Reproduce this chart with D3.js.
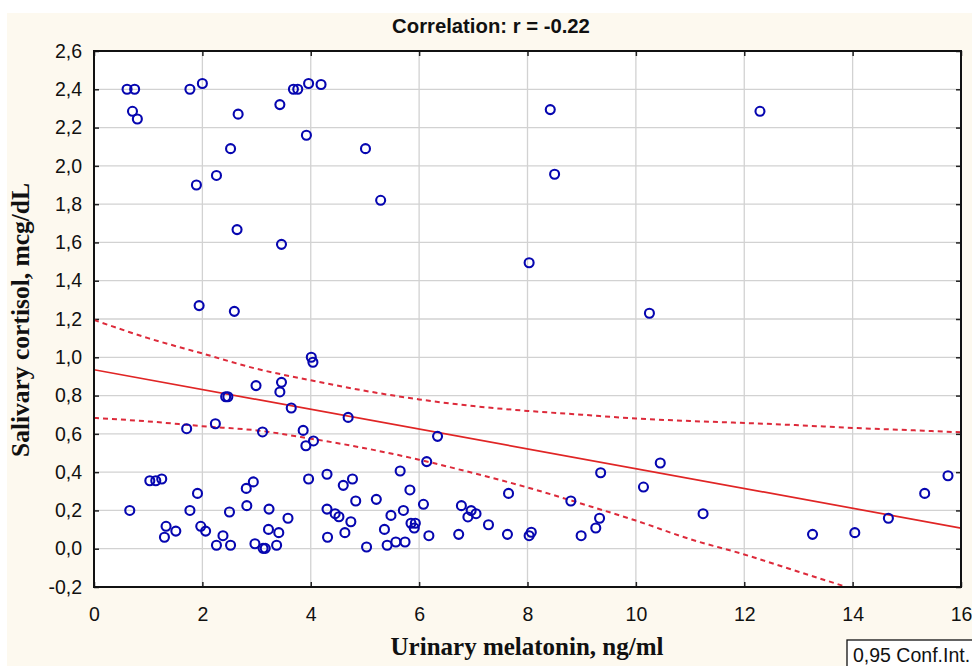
<!DOCTYPE html>
<html><head><meta charset="utf-8">
<script src="https://cdn.jsdelivr.net/npm/d3@7"></script>
<style>html,body{margin:0;padding:0;background:#fff;}svg{display:block;}</style>
</head><body>
<script>
// ---- data ----
const melatonin = [0.61,0.75,0.71,0.80,1.77,2.00,2.66,2.52,2.26,1.89,2.64,1.94,2.59,3.43,3.68,3.76,3.96,4.19,3.92,3.46,5.01,5.29,8.42,12.29,8.50,8.03,10.25,
  4.01,4.04,2.99,3.46,3.43,2.43,2.47,3.64,4.69,1.71,2.24,3.11,3.86,3.91,4.05,6.34,6.14,
  1.03,1.14,1.25,0.66,1.91,1.77,1.33,1.30,1.51,1.97,2.06,2.38,2.26,2.52,2.50,2.81,2.94,2.82,3.23,3.22,3.41,2.97,3.12,3.16,3.37,3.58,
  3.96,4.30,4.30,4.31,4.45,4.52,4.60,4.77,4.83,4.74,4.63,5.03,5.21,5.48,5.36,5.41,5.57,5.74,5.65,5.83,5.71,5.85,5.93,5.91,6.08,6.18,
  6.78,6.96,6.90,7.05,6.73,7.28,7.65,7.63,8.03,8.07,8.80,8.99,9.26,9.33,9.35,10.14,10.45,11.24,13.26,14.04,14.66,15.33,15.76];
const cortisol = [2.40,2.40,2.285,2.245,2.40,2.43,2.27,2.09,1.95,1.90,1.667,1.27,1.24,2.32,2.40,2.40,2.43,2.425,2.16,1.59,2.09,1.82,2.294,2.285,1.956,1.494,1.23,
  1.00,0.974,0.852,0.869,0.819,0.794,0.794,0.735,0.686,0.627,0.653,0.61,0.618,0.538,0.563,0.587,0.455,
  0.355,0.355,0.364,0.20,0.289,0.20,0.117,0.06,0.092,0.117,0.092,0.068,0.018,0.018,0.192,0.315,0.349,0.225,0.207,0.101,0.084,0.026,0.002,0.002,0.018,0.159,
  0.364,0.389,0.207,0.06,0.183,0.167,0.331,0.364,0.249,0.141,0.084,0.009,0.258,0.174,0.101,0.018,0.035,0.035,0.406,0.307,0.20,0.133,0.133,0.108,0.232,0.068,
  0.225,0.199,0.166,0.183,0.075,0.125,0.289,0.075,0.068,0.086,0.249,0.068,0.108,0.159,0.397,0.322,0.448,0.183,0.075,0.084,0.159,0.289,0.381];
const fitX = [0, 16];
const fitY = [0.935, 0.108];
const bandX = [0,1,2,3,4,5,6,7,8,9,10,11,12,13,14,15,16];
const upperBand = [1.195,1.10,1.02,0.94,0.88,0.825,0.78,0.745,0.72,0.70,0.68,0.667,0.657,0.645,0.631,0.62,0.608];
const lowerBand = [0.683,0.665,0.64,0.618,0.575,0.525,0.465,0.395,0.32,0.235,0.147,0.05,-0.03,-0.12,-0.21,-0.30,-0.39];
const xTicks = [0,2,4,6,8,10,12,14,16];
const yTicks = [-0.2,0,0.2,0.4,0.6,0.8,1.0,1.2,1.4,1.6,1.8,2.0,2.2,2.4,2.6];
const titleText = "Correlation: r = -0.22";
const xTitle = "Urinary melatonin, ng/ml";
const yTitle = "Salivary cortisol, mcg/dL";
const legendText = "0,95 Conf.Int.";

// ---- drawing ----
const W = 972, H = 666;
const svg = d3.select("body").append("svg").attr("width", W).attr("height", H);
svg.append("rect").attr("x",0).attr("y",0).attr("width",W).attr("height",H).attr("fill","#ffffff");
svg.append("rect").attr("x",7).attr("y",13).attr("width",W-7).attr("height",H-13).attr("fill","#fdf9ef");

const L = 94, R = 961, T = 51, B = 587;
const x = d3.scaleLinear().domain([0,16]).range([L,R]);
const y = d3.scaleLinear().domain([-0.2,2.6]).range([B,T]);
svg.append("rect").attr("x",L).attr("y",T).attr("width",R-L).attr("height",B-T).attr("fill","#ffffff");

svg.append("defs").append("clipPath").attr("id","clip")
  .append("rect").attr("x",L).attr("y",T).attr("width",R-L).attr("height",B-T);

const fmt = v => d3.format(".1f")(v).replace(".", ",").replace("−","-");

// grid
const g = svg.append("g");
g.selectAll("line.gx").data(xTicks.slice(1,-1)).join("line")
  .attr("x1",d=>x(d)).attr("x2",d=>x(d)).attr("y1",T).attr("y2",B)
  .attr("stroke","#d2d2d2").attr("stroke-width",1.3);
g.selectAll("line.gy").data(yTicks.slice(1,-1)).join("line")
  .attr("y1",d=>y(d)).attr("y2",d=>y(d)).attr("x1",L).attr("x2",R)
  .attr("stroke","#d2d2d2").attr("stroke-width",1.3);

// axes with inward ticks
const axL = d3.axisLeft(y).tickValues(yTicks).tickSize(-5).tickPadding(12).tickFormat(fmt);
const axB = d3.axisBottom(x).tickValues(xTicks).tickSize(-5).tickPadding(20).tickFormat(d3.format("d"));
const axT = d3.axisTop(x).tickValues(xTicks).tickSize(-5).tickFormat("");
const axR = d3.axisRight(y).tickValues(yTicks).tickSize(-5).tickFormat("");
function styleAxis(sel){
  sel.select(".domain").remove();
  sel.selectAll(".tick line").attr("stroke","#222").attr("stroke-width",1.5);
  sel.selectAll(".tick text").attr("fill","#111").style("font-family","'Liberation Sans', Arial, sans-serif").style("font-size","19.5px");
}
svg.append("g").attr("transform",`translate(${L},0)`).call(axL).call(styleAxis);
svg.append("g").attr("transform",`translate(0,${B})`).call(axB).call(styleAxis);
svg.append("g").attr("transform",`translate(0,${T})`).call(axT).call(styleAxis);
svg.append("g").attr("transform",`translate(${R},0)`).call(axR).call(styleAxis);

// bands and fit
const plot = svg.append("g").attr("clip-path","url(#clip)");
const bandLine = d3.line().x(d=>x(d[0])).y(d=>y(d[1])).curve(d3.curveMonotoneX);
[upperBand, lowerBand].forEach(b=>{
  plot.append("path").datum(bandX.map((v,i)=>[v,b[i]])).attr("d",bandLine)
    .attr("fill","none").attr("stroke","#dd2a3a").attr("stroke-width",2).attr("stroke-dasharray","5,4");
});
plot.append("path").datum(fitX.map((v,i)=>[v,fitY[i]])).attr("d",d3.line().x(d=>x(d[0])).y(d=>y(d[1])))
  .attr("fill","none").attr("stroke","#e02525").attr("stroke-width",1.7);

// points
plot.selectAll("circle.pt").data(melatonin.map((v,i)=>[v,cortisol[i]])).join("circle")
  .attr("cx",d=>x(d[0])).attr("cy",d=>y(d[1])).attr("r",4.5)
  .attr("fill","none").attr("stroke","#0606b0").attr("stroke-width",2.1);

// frame
svg.append("rect").attr("x",L).attr("y",T).attr("width",R-L).attr("height",B-T)
  .attr("fill","none").attr("stroke","#111").attr("stroke-width",2);

// titles
svg.append("text").attr("x",491).attr("y",33).attr("text-anchor","middle")
  .style("font-family","'Liberation Sans', Arial, sans-serif").style("font-weight","bold").style("font-size","20.3px")
  .attr("fill","#111").text(titleText);
svg.append("text").attr("x",527).attr("y",655).attr("text-anchor","middle")
  .style("font-family","'Liberation Serif', 'Times New Roman', serif").style("font-weight","bold").style("font-size","25px")
  .attr("fill","#111").text(xTitle);
svg.append("text").attr("transform","translate(29,320) rotate(-90)").attr("text-anchor","middle")
  .style("font-family","'Liberation Serif', 'Times New Roman', serif").style("font-weight","bold").style("font-size","25.5px")
  .attr("fill","#111").text(yTitle);

// legend box
svg.append("rect").attr("x",847).attr("y",640).attr("width",140).attr("height",40)
  .attr("fill","#ffffff").attr("stroke","#111").attr("stroke-width",1.3);
svg.append("text").attr("x",853).attr("y",662)
  .style("font-family","'Liberation Sans', Arial, sans-serif").style("font-size","19.5px")
  .attr("fill","#111").text(legendText);
</script>
</body></html>
